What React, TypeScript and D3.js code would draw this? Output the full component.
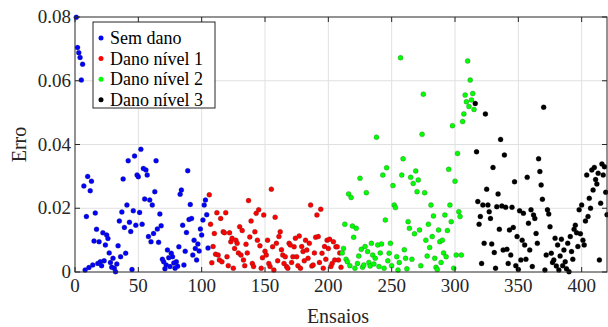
import React from 'react';
import * as d3 from 'd3';

// Error per trial (ensaio), one value per trial, in trial order
const semDano = [
  0.0799, 0.0704, 0.0688, 0.0673, 0.0602, 0.0652, 0.0270, 0.0006, 0.0174, 0.0300,
  0.0014, 0.0255, 0.0285, 0.0022, 0.0097, 0.0185, 0.0134, 0.0027, 0.0095, 0.0032,
  0.0020, 0.0123, 0.0035, 0.0085, 0.0116, 0.0105, 0.0060, 0.0030, 0.0015, 0.0043,
  0.0012, 0.0001, 0.0025, 0.0082, 0.0160, 0.0048, 0.0188, 0.0292, 0.0140, 0.0059,
  0.0210, 0.0349, 0.0156, 0.0127, 0.0008, 0.0192, 0.0364, 0.0147, 0.0304, 0.0299,
  0.0187, 0.0385, 0.0150, 0.0325, 0.0229, 0.0320, 0.0304, 0.0111, 0.0226, 0.0095,
  0.0210, 0.0121, 0.0252, 0.0349, 0.0135, 0.0093, 0.0182, 0.0145, 0.0040, 0.0032,
  0.0010, 0.0022, 0.0069, 0.0045, 0.0017, 0.0059, 0.0048, 0.0028, 0.0012, 0.0032,
  0.0018, 0.0079, 0.0244, 0.0257, 0.0147, 0.0022, 0.0065, 0.0124, 0.0318, 0.0165,
  0.0212, 0.0168, 0.0053, 0.0100, 0.0074, 0.0038, 0.0088, 0.0066, 0.0135, 0.0116,
  0.0163, 0.0210, 0.0226, 0.0180, 0.0075,
];

const danoNivel1 = [
  0.0242, 0.0150, 0.0029, 0.0080, 0.0121, 0.0056, 0.0186, 0.0053, 0.0038, 0.0168,
  0.0032, 0.0126, 0.0123, 0.0186, 0.0048, 0.0020, 0.0123, 0.0095, 0.0106, 0.0012,
  0.0074, 0.0100, 0.0090, 0.0060, 0.0142, 0.0053, 0.0130, 0.0038, 0.0020, 0.0087,
  0.0060, 0.0224, 0.0110, 0.0160, 0.0027, 0.0017, 0.0126, 0.0184, 0.0100, 0.0195,
  0.0082, 0.0012, 0.0045, 0.0179, 0.0065, 0.0053, 0.0100, 0.0027, 0.0017, 0.0260,
  0.0079, 0.0006, 0.0172, 0.0090, 0.0035, 0.0111, 0.0126, 0.0070, 0.0053, 0.0027,
  0.0048, 0.0017, 0.0012, 0.0090, 0.0085, 0.0030, 0.0048, 0.0079, 0.0106, 0.0048,
  0.0020, 0.0113, 0.0012, 0.0080, 0.0064, 0.0035, 0.0100, 0.0069, 0.0043, 0.0090,
  0.0210, 0.0019, 0.0022, 0.0060, 0.0109, 0.0179, 0.0111, 0.0030, 0.0197, 0.0059,
  0.0012, 0.0080, 0.0040, 0.0100, 0.0074, 0.0103, 0.0017, 0.0027, 0.0095, 0.0038,
  0.0079, 0.0079, 0.0038, 0.0060, 0.0015,
];

const danoNivel2 = [
  0.0060, 0.0074, 0.0150, 0.0040, 0.0032, 0.0245, 0.0020, 0.0234, 0.0144, 0.0109,
  0.0012, 0.0137, 0.0027, 0.0050, 0.0294, 0.0071, 0.0015, 0.0022, 0.0080, 0.0249,
  0.0064, 0.0030, 0.0019, 0.0090, 0.0053, 0.0025, 0.0043, 0.0423, 0.0085, 0.0017,
  0.0060, 0.0088, 0.0304, 0.0012, 0.0163, 0.0327, 0.0035, 0.0059, 0.0090, 0.0020,
  0.0271, 0.0210, 0.0202, 0.0048, 0.0006, 0.0030, 0.0672, 0.0304, 0.0355, 0.0070,
  0.0043, 0.0010, 0.0158, 0.0137, 0.0297, 0.0040, 0.0278, 0.0120, 0.0317, 0.0252,
  0.0289, 0.0132, 0.0020, 0.0432, 0.0558, 0.0249, 0.0100, 0.0050, 0.0150, 0.0077,
  0.0210, 0.0111, 0.0176, 0.0043, 0.0015, 0.0008, 0.0132, 0.0095, 0.0030, 0.0100,
  0.0060, 0.0179, 0.0048, 0.0130, 0.0322, 0.0210, 0.0158, 0.0459, 0.0012, 0.0285,
  0.0053, 0.0372, 0.0189, 0.0174, 0.0053, 0.0472, 0.0496, 0.0555, 0.0534, 0.0662,
  0.0519, 0.0602, 0.0540, 0.0560, 0.0510,
];

const danoNivel3 = [
  0.0529, 0.0377, 0.0221, 0.0150, 0.0174, 0.0027, 0.0210, 0.0090, 0.0496, 0.0260,
  0.0210, 0.0189, 0.0168, 0.0088, 0.0328, 0.0061, 0.0012, 0.0205, 0.0245, 0.0134,
  0.0416, 0.0207, 0.0069, 0.0367, 0.0203, 0.0071, 0.0027, 0.0132, 0.0053, 0.0203,
  0.0140, 0.0283, 0.0020, 0.0111, 0.0008, 0.0192, 0.0038, 0.0100, 0.0184, 0.0085,
  0.0040, 0.0297, 0.0153, 0.0069, 0.0195, 0.0017, 0.0179, 0.0168, 0.0121, 0.0090,
  0.0355, 0.0315, 0.0273, 0.0228, 0.0517, 0.0006, 0.0053, 0.0195, 0.0182, 0.0142,
  0.0059, 0.0030, 0.0038, 0.0106, 0.0019, 0.0085, 0.0006, 0.0050, 0.0103, 0.0020,
  0.0069, 0.0032, 0.0010, 0.0090, 0.0001, 0.0111, 0.0064, 0.0040, 0.0134, 0.0147,
  0.0123, 0.0080, 0.0195, 0.0120, 0.0210, 0.0100, 0.0085, 0.0160, 0.0304, 0.0174,
  0.0231, 0.0200, 0.0320, 0.0257, 0.0328, 0.0290, 0.0276, 0.0310, 0.0038, 0.0216,
  0.0339, 0.0304, 0.0330, 0.0250, 0.0180,
];

const seriesNames = ['Sem dano', 'Dano nível 1', 'Dano nível 2', 'Dano nível 3'];
const seriesValues = [semDano, danoNivel1, danoNivel2, danoNivel3];
const seriesColors = ['#0000ff', '#ff0000', '#00ff00', '#000000'];

const xTicks = [0, 50, 100, 150, 200, 250, 300, 350, 400];
const yTicks = [0, 0.02, 0.04, 0.06, 0.08];
const yTickLabels = ['0', '0.02', '0.04', '0.06', '0.08'];

const W = 608;
const H = 327;
const M = { left: 75, right: 1, top: 17, bottom: 55 };
const FONT = '"Liberation Serif", "Times New Roman", serif';

export default function App() {
  const x = d3.scaleLinear().domain([0, 420]).range([M.left, W - M.right]);
  const y = d3.scaleLinear().domain([0, 0.08]).range([H - M.bottom, M.top]);

  // flatten series into consecutive trial numbers
  const points: { t: number; v: number; s: number }[] = [];
  let t = 1;
  seriesValues.forEach((vals, s) => {
    vals.forEach((v) => {
      points.push({ t, v, s });
      t += 1;
    });
  });

  const x0 = x.range()[0];
  const x1 = x.range()[1];
  const y0 = y.range()[0];
  const y1 = y.range()[1];
  const tick = 5;
  const axisColor = '#262626';

  const legX = 93;
  const legY = 22;
  const legW = 122;
  const legH = 86;
  const rowH = 20.6;

  return (
    <svg
      width={W}
      height={H}
      style={{ position: 'absolute', left: 0, top: 0, background: '#fff' }}
      fontFamily={FONT}
    >
      <rect x={0} y={0} width={W} height={H} fill="#fff" />
      {/* grid */}
      <g stroke="#e0e0e0" strokeWidth={1}>
        {xTicks.filter((v) => v > 0).map((v) => (
          <line key={'gx' + v} x1={x(v)} x2={x(v)} y1={y0} y2={y1} />
        ))}
        {yTicks.filter((v) => v > 0 && v < 0.08).map((v) => (
          <line key={'gy' + v} x1={x0} x2={x1} y1={y(v)} y2={y(v)} />
        ))}
      </g>

      {/* points */}
      <g>
        {points.map((p, i) => (
          <circle
            key={i}
            cx={x(p.t)}
            cy={y(p.v)}
            r={2.5}
            fill={seriesColors[p.s]}
            stroke={p.s === 3 ? '#000' : '#333'}
            strokeOpacity={0.45}
            strokeWidth={0.6}
          />
        ))}
      </g>

      {/* axes box and inward ticks */}
      <g stroke={axisColor} strokeWidth={1} fill="none">
        <rect x={x0} y={y1} width={x1 - x0} height={y0 - y1} />
        {xTicks.map((v) => (
          <g key={'tx' + v}>
            <line x1={x(v)} x2={x(v)} y1={y0} y2={y0 - tick} />
            <line x1={x(v)} x2={x(v)} y1={y1} y2={y1 + tick} />
          </g>
        ))}
        {yTicks.map((v) => (
          <g key={'ty' + v}>
            <line x1={x0} x2={x0 + tick} y1={y(v)} y2={y(v)} />
            <line x1={x1} x2={x1 - tick} y1={y(v)} y2={y(v)} />
          </g>
        ))}
      </g>

      {/* tick labels */}
      <g fill="#262626" fontSize={19}>
        {xTicks.map((v) => (
          <text key={'lx' + v} x={x(v)} y={y0 + 20} textAnchor="middle">
            {v}
          </text>
        ))}
        {yTicks.map((v, i) => (
          <text key={'ly' + v} x={x0 - 4} y={y(v) + 6} textAnchor="end">
            {yTickLabels[i]}
          </text>
        ))}
      </g>

      {/* axis titles */}
      <text x={(x0 + x1) / 2 - 3} y={H - 4} textAnchor="middle" fontSize={20} fill="#262626">
        Ensaios
      </text>
      <text
        transform={`translate(${26},${(y0 + y1) / 2}) rotate(-90)`}
        textAnchor="middle"
        fontSize={20}
        fill="#262626"
      >
        Erro
      </text>

      {/* legend */}
      <g>
        <rect x={legX} y={legY} width={legW} height={legH} fill="#fff" stroke={axisColor} strokeWidth={1} />
        {seriesNames.map((name, i) => (
          <g key={name}>
            <circle
              cx={legX + 8}
              cy={legY + 16 + i * rowH}
              r={2.5}
              fill={seriesColors[i]}
            />
            <text x={legX + 17} y={legY + 22 + i * rowH} fontSize={18} fill="#000">
              {name}
            </text>
          </g>
        ))}
      </g>
    </svg>
  );
}
